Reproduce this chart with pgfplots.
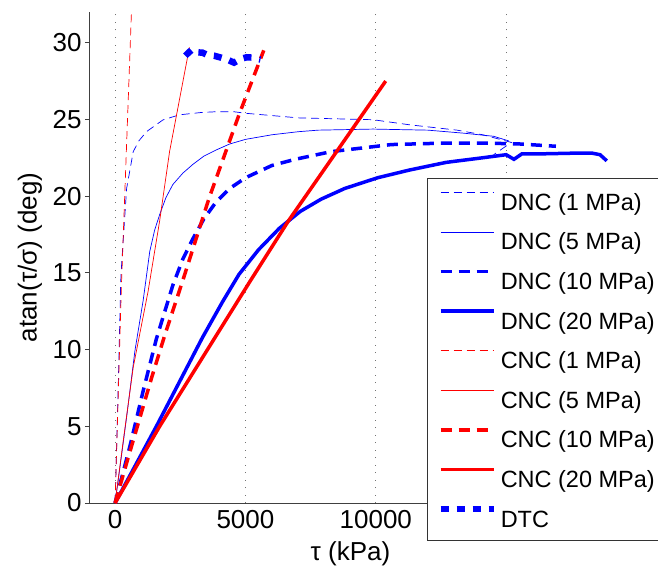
\documentclass[border=0pt]{standalone}
\usepackage{fontspec}
\setmainfont{Liberation Sans}
\usepackage{pgfplots}
\pgfplotsset{compat=1.18}
\definecolor{mblue}{rgb}{0,0,1}
\definecolor{mred}{rgb}{1,0,0}
\begin{document}
\begin{tikzpicture}
\path[use as bounding box] (-89pt,-63pt) rectangle (569pt,503pt);
\begin{axis}[
  scale only axis, width=523pt, height=491pt,
  xmin=-1000, xmax=19060, ymin=0, ymax=32,
  axis x line*=bottom, axis y line*=left,
  axis line style={line width=0.8pt, black!75},
  xtick={0,5000,10000,15000}, xticklabels={0,5000,10000,{}},
  ytick={0,5,10,15,20,25,30},
  scaled x ticks=false,
  /pgf/number format/1000 sep={},
  /pgf/number format/assume math mode=true,
  tick label style={font=\fontsize{26}{30}\selectfont, text=black},
  tick align=outside, major tick length=4pt,
  xtick style={draw=none},
  ytick style={line width=0.8pt, black!75},
  xmajorgrids,
  grid style={black!55, line width=0.7pt, dash pattern=on 1pt off 6.5pt},
  xlabel={τ (kPa)}, ylabel={atan(τ/σ) (deg)},
  label style={font=\fontsize{26}{30}\selectfont},
  xlabel style={at={(axis description cs:0.5,-0.103)}, anchor=center},
  ylabel style={at={(axis description cs:-0.113,0.5)}, anchor=center},
  legend style={at={(rel axis cs:0.646,0.662)}, anchor=north west,
    draw=black!80, line width=0.8pt, fill=white,
    font=\fontsize{23.5}{28}\selectfont,
    inner xsep=10pt, inner ysep=9pt, row sep=12.6pt,
    nodes={inner sep=0pt, text height=23pt, text depth=4pt},
    /tikz/every odd column/.append style={column sep=4pt}},
  legend cell align=left,
  legend image code/.code={\draw[#1] (0pt,8.5pt) -- (53pt,8.5pt);},
]
% DNC (1 MPa)
\addplot[mblue, line width=0.7pt, dash pattern=on 8pt off 5pt] coordinates {
(0,0)(27,1.5)(127,8)(218,14.5)(253,15.6)(443,20.5)(697,22.9)(912,23.6)(1204,24.2)
(1838,24.97)(2471,25.3)(3300,25.45)(3866,25.5)(4560,25.5)(5006,25.4)(7034,25.1)
(9890,24.98)(11290,24.65)(13120,24.3)(14100,24.0)(15200,23.5)(14520,22.7)};
\addlegendentry{DNC (1 MPa)}
% DNC (5 MPa)
\addplot[mblue, line width=0.7pt] coordinates {
(0,0)(190,2.36)(443,5.6)(760,9.9)(1077,13.2)(1141,14.0)(1331,16.4)(1520,17.8)(1711,18.8)
(1950,19.9)(2217,20.76)(2600,21.5)(2978,22.06)(3400,22.6)(3866,23.0)(4400,23.4)(5006,23.7)
(6020,24.0)(7034,24.2)(7790,24.3)(9890,24.37)(12000,24.3)(13390,24.1)(14520,23.9)(15100,23.6)};
\addlegendentry{DNC (5 MPa)}
% DNC (10 MPa)
\addplot[mblue, line width=3.5pt, dash pattern=on 11pt off 7pt] coordinates {
(0,0)(570,3.7)(1077,7.3)(1585,10.7)(2217,14.2)(2600,15.9)(2978,17.2)(3400,18.5)
(3866,19.6)(4400,20.5)(5006,21.2)(6020,22.0)(6909,22.4)(8290,22.9)(10590,23.36)
(12700,23.46)(14100,23.46)(15510,23.4)(16910,23.25)};
\addlegendentry{DNC (10 MPa)}
% DNC (20 MPa)
\addplot[mblue, line width=3.5pt] coordinates {
(0,0)(700,2.2)(1585,5.0)(2471,7.9)(3357,10.8)(4118,13.1)(4753,14.9)(5500,16.5)
(6300,17.9)(7100,19.0)(7900,19.8)(8810,20.5)(10076,21.2)(11290,21.7)(12700,22.2)
(14100,22.5)(15000,22.7)(15300,22.4)(15600,22.75)(16200,22.75)(17600,22.8)
(18300,22.8)(18600,22.7)(18860,22.3)};
\addlegendentry{DNC (20 MPa)}
% CNC (1 MPa)
\addplot[mred, line width=0.7pt, dash pattern=on 8pt off 5pt] coordinates {
(0,0)(240,14)(600,30.7)(640,32.5)};
\addlegendentry{CNC (1 MPa)}
% CNC (5 MPa)
\addplot[mred, line width=0.7pt] coordinates {
(0,0)(317,4.1)(697,8.85)(1267,13.8)(1711,18.4)(2090,22.9)(2852,29.7)};
\addlegendentry{CNC (5 MPa)}
% CNC (10 MPa)
\addplot[mred, line width=3.5pt, dash pattern=on 11pt off 7pt] coordinates {
(0,0)(510,3.0)(959,5.6)(1408,8.2)(1918,11.0)(2597,14.5)(3612,19.9)(4753,25.3)(5703,29.5)};
\addlegendentry{CNC (10 MPa)}
% CNC (20 MPa)
\addplot[mred, line width=3.5pt] coordinates {
(0,0)(1711,5)(5196,14.5)(6654,18.4)(10380,27.5)};
\addlegendentry{CNC (20 MPa)}
% DTC
\addplot[mblue, line width=6.5pt, dash pattern=on 8pt off 8pt] coordinates {
(2700,29.45)(2788,29.3)(2950,29.55)(3168,29.37)(3350,29.35)(3548,29.2)(3800,29.15)
(4056,29.03)(4300,28.9)(4562,28.7)(4816,28.94)(5050,29.05)(5260,29.03)(5577,28.9)};
\addlegendentry{DTC}
\end{axis}
\end{tikzpicture}
\end{document}
